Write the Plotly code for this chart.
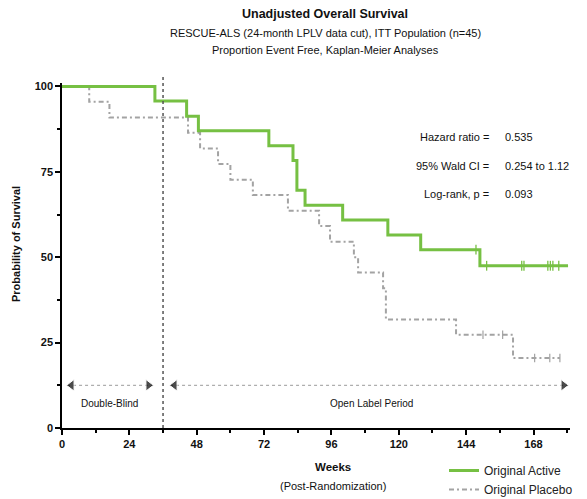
import plotly.graph_objects as go

# ---- data ----
weeks_active = [0, 33.1, 44.4, 48.6, 73.7, 82.3, 83.7, 86.6, 100.0, 116.1, 127.8, 148.9, 180.3]
surv_active = [100, 95.7, 91.3, 87.0, 82.6, 78.3, 69.6, 65.2, 60.9, 56.5, 52.2, 47.5, 47.5]
censor_active_weeks = [147.5, 151.3, 163.8, 164.6, 173.1, 174.0, 174.9, 177.0]
censor_active_surv = [52.2, 47.5, 47.5, 47.5, 47.5, 47.5, 47.5, 47.5]

weeks_placebo = [0, 9.7, 16.9, 44.9, 49.2, 55.6, 60.0, 68.0, 80.5, 91.6, 95.5, 104.0, 105.5,
                 114.4, 115.4, 140.4, 160.7, 177.4]
surv_placebo = [100, 95.5, 90.9, 86.4, 81.8, 77.3, 72.7, 68.2, 63.6, 59.1, 54.5, 50.0, 45.5,
                40.9, 31.8, 27.3, 20.5, 20.5]
censor_placebo_weeks = [150.0, 157.0, 168.4, 173.8, 177.4]
censor_placebo_surv = [27.3, 27.3, 20.5, 20.5, 20.5]

x_ticks = [0, 24, 48, 72, 96, 120, 144, 168]
y_ticks = [0, 25, 50, 75, 100]
stat_labels = ["Hazard ratio =", "95% Wald CI =", "Log-rank, p ="]
stat_values = ["0.535", "0.254 to 1.12", "0.093"]

GREEN = "#76c043"
GRAY = "#a3a3a3"
FONT = "Liberation Sans, Arial, sans-serif"

W_PX, H_PX = 587, 499
L, R, T, B = 62, 17, 83, 71
PW = W_PX - L - R
PH = H_PX - T - B


def px(x):
    return (x - L) / PW


def py(y):
    return (H_PX - B - y) / PH


fig = go.Figure()

# placebo line
fig.add_trace(go.Scatter(
    x=weeks_placebo, y=surv_placebo, mode="lines", line_shape="hv",
    line=dict(color=GRAY, width=2, dash="5px,3px,2px,3px"),
    name="Original Placebo", legendrank=2))
fig.add_trace(go.Scatter(
    x=censor_placebo_weeks, y=censor_placebo_surv, mode="markers", showlegend=False,
    marker=dict(symbol="line-ns", size=6, line=dict(color=GRAY, width=1.2))))

# active line
fig.add_trace(go.Scatter(
    x=weeks_active, y=surv_active, mode="lines", line_shape="hv",
    line=dict(color=GREEN, width=3),
    name="Original Active", legendrank=1))
fig.add_trace(go.Scatter(
    x=censor_active_weeks, y=censor_active_surv, mode="markers", showlegend=False,
    marker=dict(symbol="line-ns", size=7, line=dict(color=GREEN, width=1.3))))

# period arrows
for x0, x1 in [(1.8, 32.4), (38.5, 180.3)]:
    fig.add_trace(go.Scatter(
        x=[x0, x1], y=[12.5, 12.5], mode="lines", showlegend=False, hoverinfo="skip",
        line=dict(color="#9a9a9a", width=1, dash="dot")))
    fig.add_trace(go.Scatter(
        x=[x0 + 1.6, x1 - 1.6], y=[12.5, 12.5], mode="markers", showlegend=False,
        hoverinfo="skip",
        marker=dict(symbol=["triangle-left", "triangle-right"], size=[10, 10],
                    color="black")))

annotations = [
    dict(text="<b>Unadjusted Overall Survival</b>", x=px(325), y=py(14),
         font=dict(size=12.5)),
    dict(text="RESCUE-ALS (24-month LPLV data cut), ITT Population (n=45)", x=px(325),
         y=py(33), font=dict(size=11)),
    dict(text="Proportion Event Free, Kaplan-Meier Analyses", x=px(325), y=py(50),
         font=dict(size=11)),
    dict(text="<b>Probability of Survival</b>", x=px(16), y=py(244), textangle=-90,
         font=dict(size=11)),
    dict(text="<b>Weeks</b>", x=px(333), y=py(467), font=dict(size=11.5)),
    dict(text="(Post-Randomization)", x=px(333), y=py(486), font=dict(size=11)),
    dict(text="Double-Blind", x=17, y=7.3, xref="x", yref="y", font=dict(size=10)),
    dict(text="Open Label Period", x=110.4, y=7.3, xref="x", yref="y",
         font=dict(size=10)),
]
for i, (lab, val) in enumerate(zip(stat_labels, stat_values)):
    yy = [137, 166, 194][i]
    annotations.append(dict(text=lab, x=px(491), y=py(yy), xanchor="right",
                            font=dict(size=11)))
    annotations.append(dict(text=val, x=px(503), y=py(yy), xanchor="left",
                            font=dict(size=11)))

for a in annotations:
    a.setdefault("xref", "paper")
    a.setdefault("yref", "paper")
    a.setdefault("xanchor", "center")
    a.setdefault("yanchor", "middle")
    a["showarrow"] = False
    a["font"] = dict(family=FONT, color="#111111", **a["font"])

fig.update_layout(
    width=W_PX, height=H_PX,
    margin=dict(l=L, r=R, t=T, b=B, pad=0, autoexpand=False),
    paper_bgcolor="white", plot_bgcolor="white",
    font=dict(family=FONT, color="#111111"),
    annotations=annotations,
    shapes=[dict(type="line", xref="x", yref="paper", x0=36, x1=36, y0=0, y1=1.02,
                 line=dict(color="#555555", width=1.5, dash="dot"))],
    showlegend=True,
    legend=dict(x=px(444), y=py(456), xanchor="left", yanchor="top",
                font=dict(size=12, family=FONT, color="#222222"),
                bgcolor="rgba(0,0,0,0)", itemwidth=30, tracegroupgap=0),
    xaxis=dict(range=[0, 181], tickvals=x_ticks, ticks="outside", ticklen=5,
               tickwidth=1.5, tickcolor="black", showline=True, linecolor="black",
               linewidth=1.5, showgrid=False, zeroline=False, automargin=False,
               tickfont=dict(size=11, family=FONT, color="#111111", weight="bold"),
               minor=dict(tickvals=[12, 36, 60, 84, 108, 132, 156, 180],
                          ticks="outside", ticklen=3,
                          tickwidth=1.5, tickcolor="black", showgrid=False)),
    yaxis=dict(range=[0, 101], tickvals=y_ticks, ticks="outside", ticklen=5,
               tickwidth=1.5, tickcolor="black", showline=True, linecolor="black",
               linewidth=1.5, showgrid=False, zeroline=False, automargin=False,
               tickfont=dict(size=11, family=FONT, color="#111111", weight="bold"),
               minor=dict(tickvals=[12.5, 37.5, 62.5, 87.5],
                          ticks="outside", ticklen=3,
                          tickwidth=1.5, tickcolor="black", showgrid=False)),
)

fig.write_html("out.html",
               config={"displayModeBar": False},
               post_script="document.body.style.margin='0';"
                           "document.body.style.overflow='hidden';")
